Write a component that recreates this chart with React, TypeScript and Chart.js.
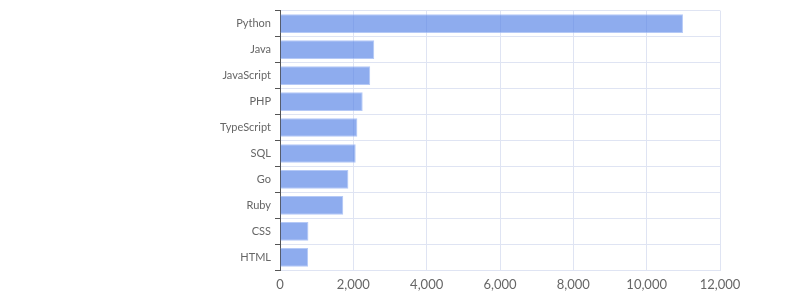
import React, { useEffect, useRef } from "react";
import { Chart, registerables } from "chart.js";

Chart.register(...registerables);

const languages = ["Python", "Java", "JavaScript", "PHP", "TypeScript", "SQL", "Go", "Ruby", "CSS", "HTML"];
const counts = [10990, 2570, 2460, 2255, 2110, 2065, 1865, 1725, 775, 765];
const xMax = 12000;
const xStep = 2000;

export default function App() {
  const ref = useRef<HTMLCanvasElement | null>(null);
  useEffect(() => {
    if (!ref.current) return;
    const chart = new Chart(ref.current, {
      type: "bar",
      data: {
        labels: languages,
        datasets: [
          {
            data: counts,
            backgroundColor: "rgba(88,132,230,0.68)",
            borderColor: "rgba(150,178,242,0.7)",
            borderWidth: 1,
            barPercentage: 0.8,
            categoryPercentage: 0.9,
          },
        ],
      },
      options: {
        indexAxis: "y",
        animation: false,
        responsive: false,
        maintainAspectRatio: false,
        layout: { padding: { left: 0, right: 80, top: 6, bottom: 0 } },
        plugins: { legend: { display: false }, tooltip: { enabled: false } },
        scales: {
          x: {
            min: 0,
            max: xMax,
            ticks: {
              stepSize: xStep,
              color: "#666",
              font: { family: "Lato", size: 13 },
              padding: 7,
            },
            grid: { color: "#dfe4f3", drawTicks: false },
            border: { color: "#dfe4f3" },
          },
          y: {
            afterFit: (scale: any) => {
              scale.width = 280;
            },
            ticks: { color: "#666", font: { family: "Lato", size: 11 }, padding: 4 },
            grid: { color: "#dfe4f3", tickColor: "#555", tickLength: 5, offset: true },
            border: { color: "#555" },
          },
        },
      },
    });
    return () => chart.destroy();
  }, []);
  return (
    <div style={{ position: "absolute", left: 0, top: 0, width: 800, height: 300 }}>
      <canvas ref={ref} width={800} height={300} />
    </div>
  );
}
